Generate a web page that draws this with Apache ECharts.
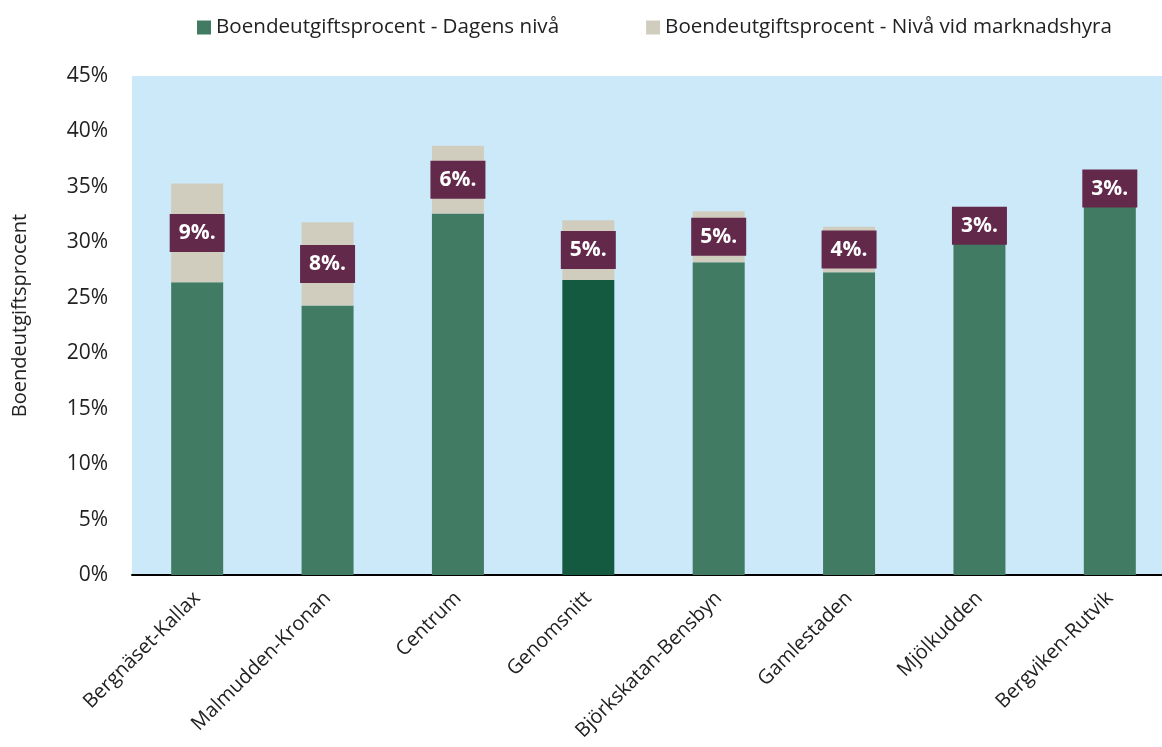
<!DOCTYPE html>
<html><head><meta charset="utf-8">
<script src="https://cdn.jsdelivr.net/npm/echarts@6/dist/echarts.min.js"></script>
<style>html,body{margin:0;padding:0;background:#fff;overflow:hidden;width:1162px;height:747px}#c{width:1175px;height:747px}</style>
</head><body><div id="c"></div>
<script>
const categories = ['Bergnäset-Kallax','Malmudden-Kronan','Centrum','Genomsnitt','Björkskatan-Bensbyn','Gamlestaden','Mjölkudden','Bergviken-Rutvik'];
const dagensNiva = [26.4, 24.3, 32.6, 26.6, 28.2, 27.3, 29.9, 33.2];
const marknadsTillagg = [8.9, 7.5, 6.1, 5.4, 4.6, 4.1, 3.2, 3.3];
const highlightIndex = 3;
const seriesNames = ['Boendeutgiftsprocent - Dagens nivå','Boendeutgiftsprocent - Nivå vid marknadshyra'];
const yAxisName = 'Boendeutgiftsprocent';

const FONT = 'Open Sans';
const chart = echarts.init(document.getElementById('c'));
chart.setOption({
  animation: false,
  textStyle: {fontFamily: FONT},
  legend: {
    top: 12, left: 192, itemWidth: 14, itemHeight: 14, itemGap: 87,
    icon: 'rect',
    textStyle: {fontSize: 20.6, color: '#222', fontFamily: FONT},
    data: seriesNames
  },
  grid: {left: 132, right: 0, top: 76, bottom: 172, show: true, backgroundColor: '#cce9fa', borderWidth: 0},
  xAxis: {
    type: 'category', data: categories,
    axisLine: {lineStyle: {color: '#000', width: 2}},
    axisTick: {show: false},
    axisLabel: {rotate: 45, fontSize: 20, color: '#222', margin: 20, fontFamily: FONT, interval: 0}
  },
  yAxis: {
    type: 'value', min: 0, max: 45, interval: 5,
    name: yAxisName, nameLocation: 'middle', nameGap: 102,
    nameTextStyle: {fontSize: 20, color: '#222', fontFamily: FONT, padding: [0, 0, 0, 20]},
    axisLine: {show: false}, axisTick: {show: false}, splitLine: {show: false},
    axisLabel: {formatter: '{value}%', fontSize: 21, color: '#222', margin: 24, fontFamily: FONT}
  },
  series: [
    {
      name: seriesNames[0], type: 'bar', stack: 'a', barWidth: 52,
      itemStyle: {color: '#417b64'},
      data: dagensNiva.map((v, i) => i === highlightIndex ? {value: v, itemStyle: {color: '#135a40'}} : v)
    },
    {
      name: seriesNames[1], type: 'bar', stack: 'a', barWidth: 52,
      itemStyle: {color: '#d0cdbf'},
      label: {
        show: true, position: 'inside',
        formatter: p => Math.round(p.value) + '%.',
        backgroundColor: '#62294b', color: '#fff', fontWeight: 'bold', fontSize: 21,
        fontFamily: FONT, width: 45, height: 22, lineHeight: 22, align: 'center', padding: [8, 5]
      },
      data: marknadsTillagg
    }
  ]
});
</script></body></html>
